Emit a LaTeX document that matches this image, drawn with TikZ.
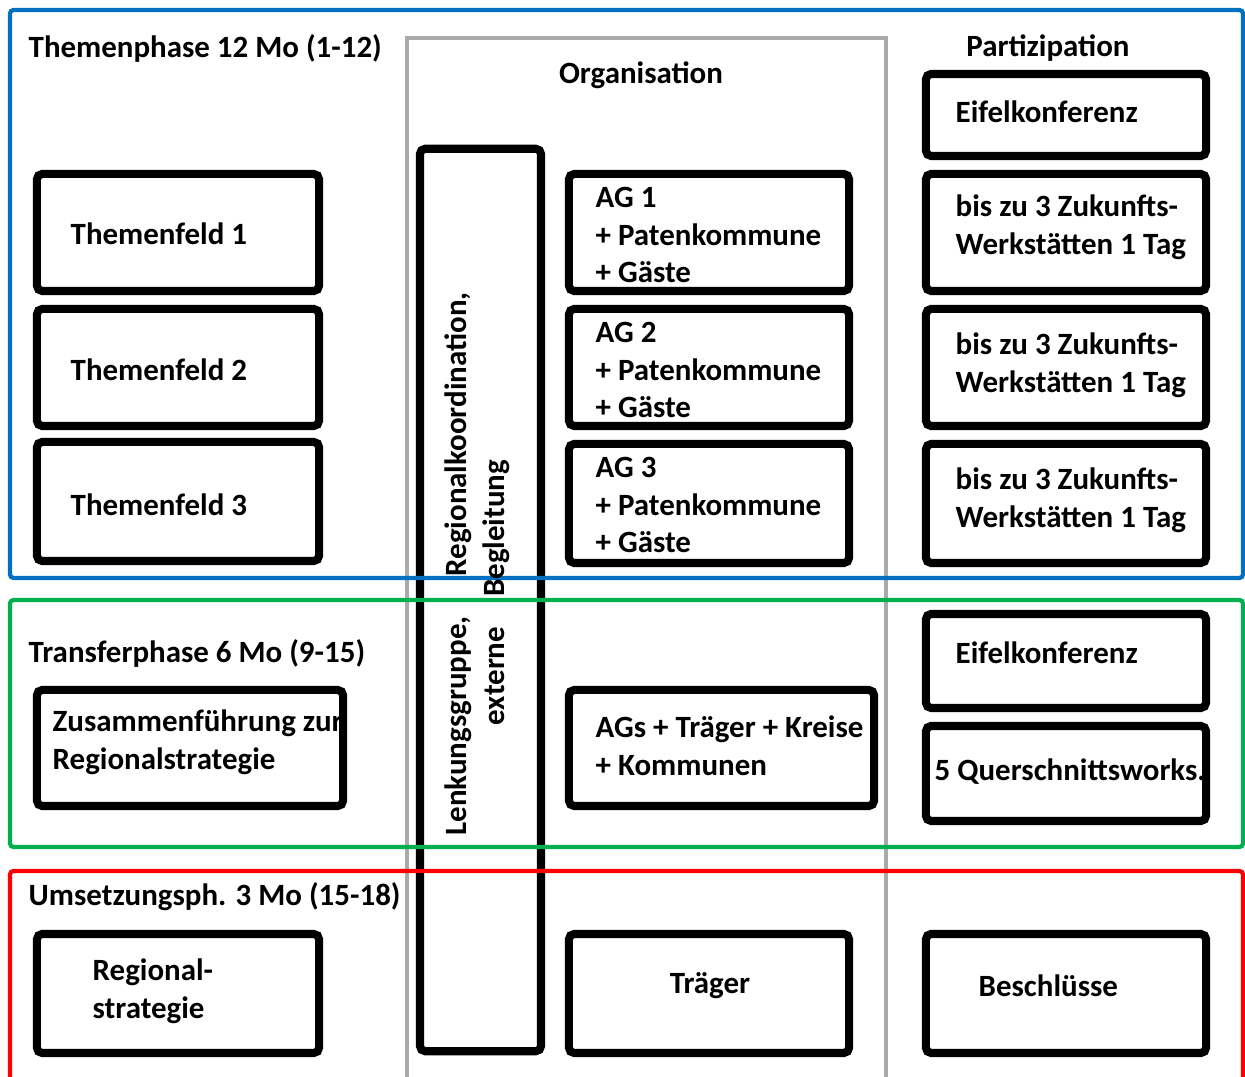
\documentclass[tikz,border=0pt]{standalone}
\usepackage{fontspec}
\setmainfont{Carlito}
\usepackage{xcolor}
\definecolor{phaseblue}{RGB}{0,112,192}
\definecolor{phasegreen}{RGB}{0,176,80}
\definecolor{phasered}{RGB}{255,0,0}
\definecolor{colgray}{RGB}{170,170,170}

\begin{document}
\begin{tikzpicture}[x=0.01cm, y=-0.01cm,
    box/.style={draw, line width=2.3pt, rounded corners=1.5pt, minimum width=2.82cm, minimum height=1.17cm, inner sep=0pt},
    txt/.style={font=\fontsize{8.8}{10.7}\selectfont\bfseries, align=left, inner sep=0pt},
    frame/.style={line width=1.2pt, rounded corners=1pt}]
    \useasboundingbox (0,0) rectangle (1245,1077);
    \clip (0,0) rectangle (1245,1077);

    % Organisation column
    \draw[colgray, line width=1.2pt] (407,1090) -- (407,38) -- (886,38) -- (886,1090);

    % Themenphase boxes
    \node[box] (tf1) at (178,232.5) {};
    \node[box] (tf2) at (178,367.5) {};
    \node[box, minimum height=1.19cm] (tf3) at (178,501.5) {};
    \node[box, minimum width=2.80cm] (ag1) at (709,232.5) {};
    \node[box, minimum width=2.80cm] (ag2) at (709,367.5) {};
    \node[box, minimum width=2.80cm, minimum height=1.19cm] (ag3) at (709,503.5) {};
    \node[box, minimum width=2.80cm, minimum height=0.82cm] (eifel1) at (1066,115) {};
    \node[box, minimum width=2.80cm] (zw1) at (1066,232.5) {};
    \node[box, minimum width=2.80cm] (zw2) at (1066,367.5) {};
    \node[box, minimum width=2.80cm, minimum height=1.19cm] (zw3) at (1066,503.5) {};

    % Lenkungsgruppe bar
    \node[box, minimum width=1.21cm, minimum height=9.02cm] (lenk) at (480.5,600) {};

    % Transferphase boxes
    \node[box, minimum width=3.06cm, minimum height=1.16cm] (zus) at (190,748) {};
    \node[box, minimum width=3.05cm, minimum height=1.16cm] (ags) at (721.5,748) {};
    \node[box, minimum width=2.80cm, minimum height=0.94cm] (eifel2) at (1066,661) {};
    \node[box, minimum width=2.80cm, minimum height=0.95cm] (quer) at (1066,773.5) {};

    % Umsetzungsphase boxes
    \node[box, minimum height=1.19cm] (regio) at (178,993.5) {};
    \node[box, minimum width=2.80cm, minimum height=1.19cm] (traeger) at (709,993.5) {};
    \node[box, minimum width=2.80cm, minimum height=1.19cm] (beschl) at (1066,993.5) {};

    % Phase frames
    \draw[phaseblue, frame] (10,10) rectangle (1243,578);
    \draw[phasegreen, frame] (10,600) rectangle (1243,847);
    \draw[phasered, frame] (10,1090) -- (10,871) -- (1243,871) -- (1243,1090);

    % Headings
    \node[txt, anchor=west] (themen) at (28,48) {Themenphase 12 Mo (1-12)};
    \node[txt] (orga) at (641,75) {Organisation};
    \node[txt] (parti) at (1048,48) {Partizipation};
    \node[txt, anchor=west] (transfer) at (28,653) {Transferphase 6 Mo (9-15)};
    \node[txt, anchor=west] (umsetz) at (28,897) {Umsetzungsph. 3 Mo (15-18)};

    % Box texts
    \node[txt, anchor=west] (tf1t) at (70,234) {Themenfeld 1};
    \node[txt, anchor=west] (tf2t) at (70,370) {Themenfeld 2};
    \node[txt, anchor=west] (tf3t) at (70,505) {Themenfeld 3};
    \node[txt, anchor=west] (ag1t) at (595,235) {AG 1\\+ Patenkommune\\+ Gäste};
    \node[txt, anchor=west] (ag2t) at (595,370) {AG 2\\+ Patenkommune\\+ Gäste};
    \node[txt, anchor=west] (ag3t) at (595,505) {AG 3\\+ Patenkommune\\+ Gäste};
    \node[txt, anchor=west] (eifel1t) at (955,112) {Eifelkonferenz};
    \node[txt, anchor=west] (zw1t) at (955,227) {bis zu 3 Zukunfts-\\Werkstätten 1 Tag};
    \node[txt, anchor=west] (zw2t) at (955,365) {bis zu 3 Zukunfts-\\Werkstätten 1 Tag};
    \node[txt, anchor=west] (zw3t) at (955,500) {bis zu 3 Zukunfts-\\Werkstätten 1 Tag};
    \node[txt, rotate=90, align=center] (lenkt) at (477,564)
        {Lenkungsgruppe,\hspace{0.4cm}Regionalkoordination,\\externe\hspace{0.3cm}Begleitung\hspace*{0.57cm}};
    \node[txt, anchor=west] (zust) at (52,742) {Zusammenführung zur\\Regionalstrategie};
    \node[txt, anchor=west] (agst) at (595,746) {AGs + Träger + Kreise\\+ Kommunen};
    \node[txt, anchor=west] (eifel2t) at (955,653) {Eifelkonferenz};
    \node[txt, anchor=west] (quert) at (934,772) {5 Querschnittsworks.};
    \node[txt, anchor=west] (regiot) at (92,991) {Regional-\\strategie};
    \node[txt] (traegert) at (710,986) {Träger};
    \node[txt, anchor=west] (beschlt) at (978,986) {Beschlüsse};
\end{tikzpicture}
\end{document}
